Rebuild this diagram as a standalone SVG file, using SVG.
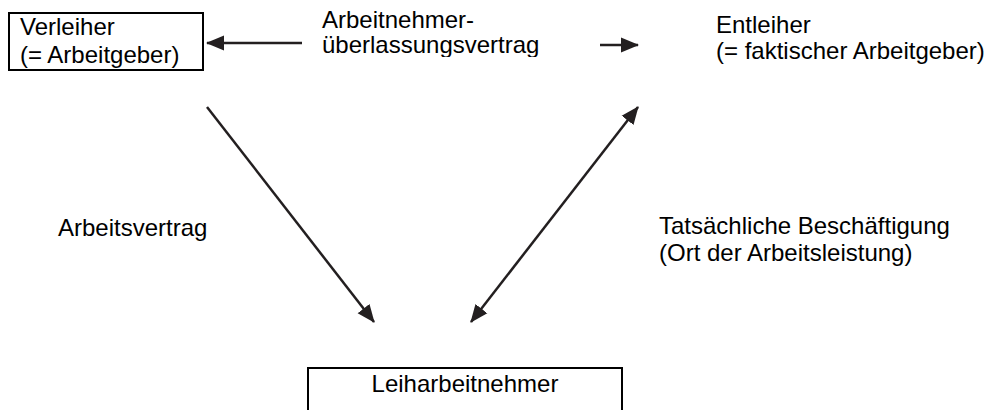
<svg xmlns="http://www.w3.org/2000/svg" width="991" height="410" viewBox="0 0 991 410">
<style>
text{font-family:"Liberation Sans",Arial,sans-serif;font-size:24px;fill:#000}
.box{fill:#fff;stroke:#000;stroke-width:2}
.ln{stroke:#231f20;stroke-width:2.5;fill:none}
</style>
<defs>
<marker id="ah" markerUnits="userSpaceOnUse" markerWidth="20" markerHeight="16" refX="17" refY="8" orient="auto-start-reverse" viewBox="0 0 20 16">
<path d="M0,0.5 L18,8 L0,15.5 Z" fill="#231f20"/>
</marker>
<clipPath id="clipT"><rect x="300" y="0" width="300" height="57"/></clipPath>
</defs>
<rect width="991" height="410" fill="#fff"/>
<g id="verleiher">
<rect class="box" x="9" y="13" width="194" height="57"/>
<text x="20" y="35">Verleiher</text>
<text x="20" y="63">(= Arbeitgeber)</text>
</g>
<g id="entleiher">
<text x="716" y="33">Entleiher</text>
<text x="716" y="59">(= faktischer Arbeitgeber)</text>
</g>
<g id="leiharbeitnehmer">
<rect class="box" x="308" y="368" width="314" height="60"/>
<text x="465" y="392" text-anchor="middle">Leiharbeitnehmer</text>
</g>
<g id="connectors">
<line class="ln" x1="302" y1="43" x2="207" y2="43" stroke-width="2" marker-end="url(#ah)"/>
<line class="ln" x1="600" y1="45" x2="638" y2="45" stroke-width="2" marker-end="url(#ah)"/>
<line class="ln" x1="207" y1="107" x2="374" y2="322" marker-end="url(#ah)"/>
<line class="ln" x1="471" y1="322" x2="638" y2="107" marker-start="url(#ah)" marker-end="url(#ah)"/>
</g>
<g id="labels">
<g clip-path="url(#clipT)">
<text x="322" y="28">Arbeitnehmer-</text>
<text x="322" y="53">überlassungsvertrag</text>
</g>
<text x="58" y="236">Arbeitsvertrag</text>
<text x="659" y="234">Tatsächliche Beschäftigung</text>
<text x="659" y="261">(Ort der Arbeitsleistung)</text>
</g>
</svg>
